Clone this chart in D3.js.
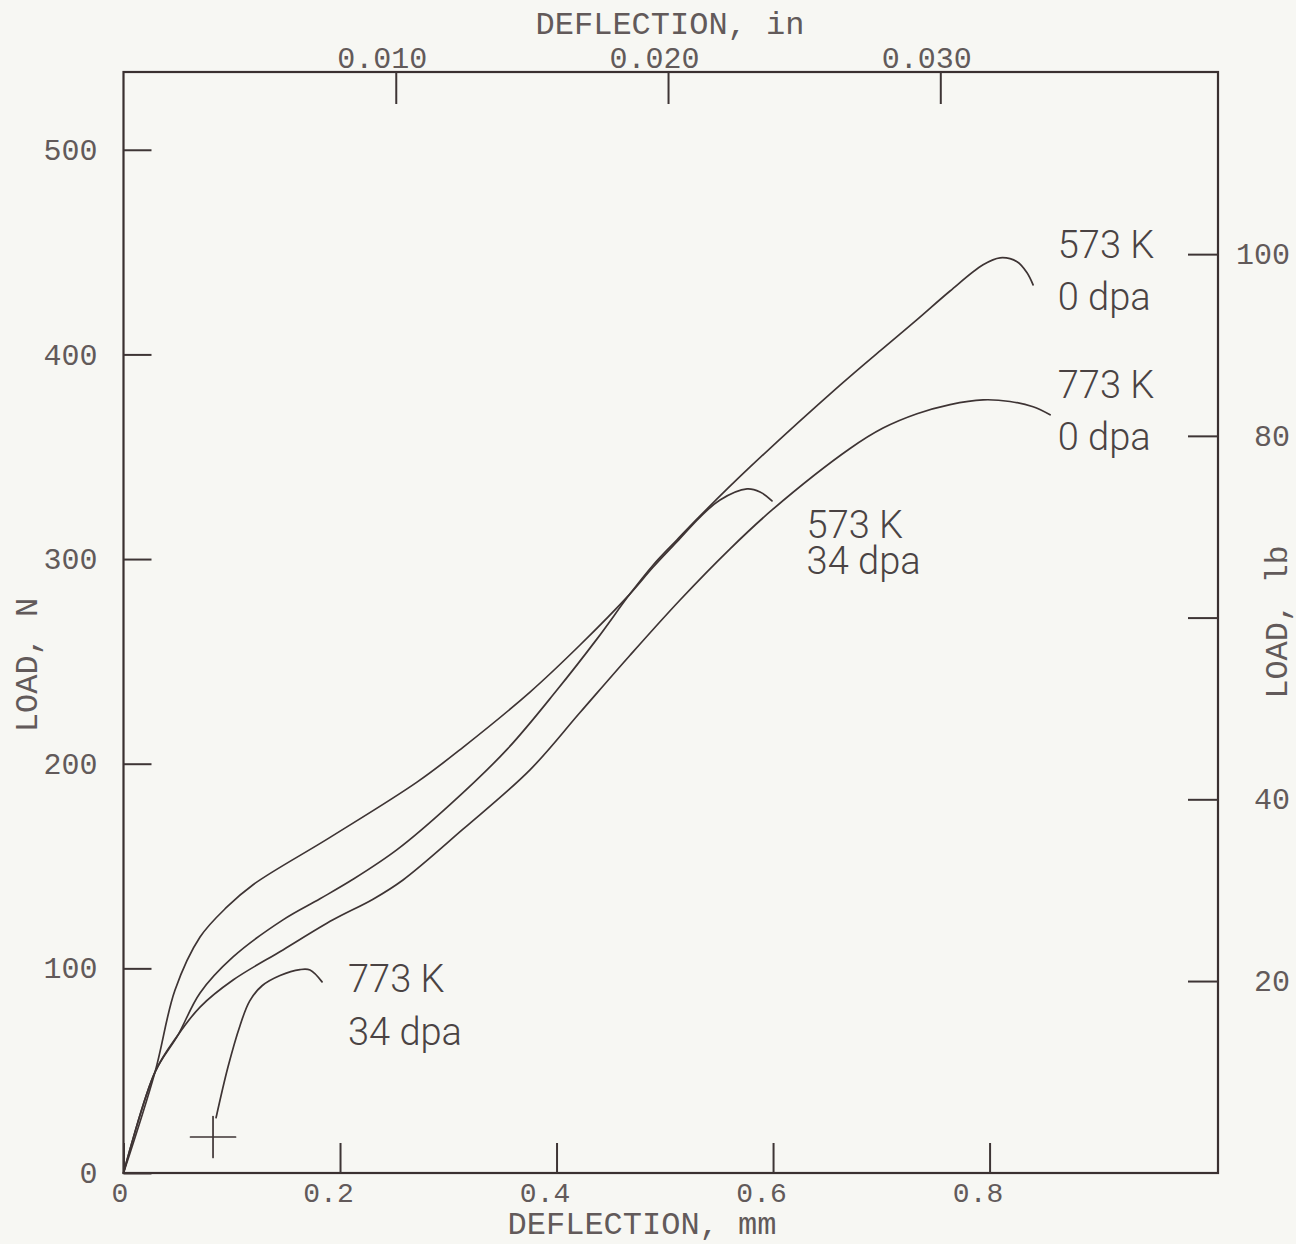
<!DOCTYPE html>
<html>
<head>
<meta charset="utf-8">
<script src="https://cdn.jsdelivr.net/npm/d3@7"></script>
<style>
  html, body { margin: 0; padding: 0; background: #f7f7f3; }
  svg { display: block; }
  .axis text { font-family: "Liberation Mono", "DejaVu Sans Mono", monospace; font-size: 30px; fill: #625a5a; }
  .axis.bottom text { font-size: 28px; }
  .axis path { display: none; }
  .axis line { stroke: #3e3535; stroke-width: 2; }
  .title { font-family: "Liberation Mono", "DejaVu Sans Mono", monospace; font-size: 32px; fill: #625a5a; }
  .note { font-family: Roboto, Inter, "Open Sans", sans-serif; font-weight: 300; font-size: 38px; fill: #4a4343; }
  .curve { fill: none; stroke: #3e3434; stroke-width: 1.7; stroke-linejoin: round; stroke-linecap: round; }
</style>
</head>
<body>
<svg id="chart" width="1296" height="1244"></svg>
<script>
// Load–deflection records: [deflection (mm), load (N)]
const curve573K0dpa = [
  [0, 0], [0.0291, 49.3], [0.0503, 67.4], [0.0707, 88.0], [0.1012, 105.6], [0.1473, 123.7],
  [0.1815, 134.0], [0.212, 143.5], [0.2527, 158.0], [0.3016, 180.0], [0.3543, 207.0],
  [0.4004, 236.0], [0.4374, 261.0], [0.4679, 283.0], [0.4891, 297.0], [0.5113, 309.4],
  [0.5326, 321.1], [0.5788, 345.0], [0.6619, 385.0], [0.7016, 403.0], [0.733, 417.0],
  [0.7635, 431.0], [0.794, 443.8], [0.8097, 447.2], [0.8254, 445.3], [0.8346, 439.9], [0.8402, 434.0]
];
const curve573K34dpa = [
  [0, 0], [0.0291, 49.3], [0.0476, 89.4], [0.0707, 115.3], [0.0956, 130.0], [0.12, 141.0],
  [0.1908, 164.0], [0.2711, 191.0], [0.3136, 208.0], [0.3755, 235.0], [0.4217, 258.0],
  [0.4679, 283.0], [0.4891, 296.0], [0.5113, 308.5], [0.5326, 320.5], [0.551, 328.9],
  [0.576, 334.3], [0.588, 332.8], [0.599, 328.4]
];
const curve773K0dpa = [
  [0, 0], [0.0291, 49.3], [0.0503, 67.4], [0.0707, 81.1], [0.1012, 94.3], [0.1473, 109.0],
  [0.1935, 123.7], [0.2305, 133.8], [0.2582, 143.2], [0.3136, 168.0], [0.3755, 197.0],
  [0.4217, 225.0], [0.4679, 253.0], [0.5141, 280.0], [0.5603, 305.0], [0.5991, 324.0],
  [0.6711, 354.0], [0.7016, 364.0], [0.733, 371.0], [0.7635, 375.5], [0.794, 377.8],
  [0.8189, 377.0], [0.8402, 374.4], [0.8559, 370.5]
];
const curve773K34dpa = [
  [0.0855, 27.0], [0.0965, 51.8], [0.1076, 72.0], [0.1165, 84.0], [0.128, 91.5], [0.1446, 96.5],
  [0.163, 99.4], [0.1723, 99.2], [0.1834, 93.4]
];
// starting-point cross of the 773 K / 34 dpa record: centre and half extents
const startCross = { deflection: 0.0827, load: 17.6, halfDeflection: 0.0208, halfLoad: 10 };

// Curve annotations: lines of text and their anchor in data units
const curveNotes = [
  { lines: ["573 K", "0 dpa"], deflection: 0.863, load: 447, lineStep: 25.4 },
  { lines: ["773 K", "0 dpa"], deflection: 0.863, load: 378.7, lineStep: 25.4 },
  { lines: ["573 K", "34 dpa"], deflection: 0.631, load: 310.3, lineStep: 17.6 },
  { lines: ["773 K", "34 dpa"], deflection: 0.2074, load: 88.4, lineStep: 25.9 }
];

// Axis ticks
const mmTicks = [0, 0.2, 0.4, 0.6, 0.8];
const inchTicks = [0.010, 0.020, 0.030];
const newtonTicks = [0, 100, 200, 300, 400, 500];
const poundTicks = [20, 40, 60, 80, 100];
const poundLabels = { 20: "20", 40: "40", 60: "", 80: "80", 100: "100" };

const svg = d3.select("#chart");
const frame = { left: 123.5, right: 1218, top: 72, bottom: 1173 };

const x = d3.scaleLinear().domain([0, 1.011]).range([frame.left, frame.right]);
const y = d3.scaleLinear().domain([0, 538]).range([frame.bottom, frame.top]);
const xIn = d3.scaleLinear().domain([0, 0.0402]).range([frame.left, frame.right]);
const yLb = d3.scaleLinear().domain([0, 100]).range([y(5), y(449)]);

// plot frame
svg.append("rect")
  .attr("x", frame.left).attr("y", frame.top)
  .attr("width", frame.right - frame.left).attr("height", frame.bottom - frame.top)
  .attr("fill", "none").attr("stroke", "#3a3030").attr("stroke-width", 2.2);

// bottom axis (mm)
const gBottom = svg.append("g").attr("class", "axis bottom")
  .attr("transform", `translate(0,${frame.bottom})`)
  .call(d3.axisBottom(x).tickValues(mmTicks).tickSize(-30).tickPadding(9)
    .tickFormat(d => d === 0 ? "0" : d3.format(".1f")(d)));
gBottom.selectAll("text").attr("dx", d => d === 0 ? -4 : -12);

// top axis (in)
const gTop = svg.append("g").attr("class", "axis")
  .attr("transform", `translate(0,${frame.top})`)
  .call(d3.axisTop(xIn).tickValues(inchTicks).tickSize(-32).tickPadding(4)
    .tickFormat(d3.format(".3f")));
gTop.selectAll("text").attr("dx", -14);

// left axis (N)
svg.append("g").attr("class", "axis")
  .attr("transform", `translate(${frame.left},0)`)
  .call(d3.axisLeft(y).tickValues(newtonTicks).tickSize(-28).tickPadding(26));

// right axis (lb)
const gRight = svg.append("g").attr("class", "axis")
  .attr("transform", `translate(${frame.right},0)`)
  .call(d3.axisRight(yLb).tickValues(poundTicks).tickSize(-30).tickPadding(72)
    .tickFormat(d => poundLabels[d]));
gRight.selectAll("text").attr("text-anchor", "end");

// axis titles
svg.append("text").attr("class", "title")
  .attr("x", 642).attr("y", 1234).attr("text-anchor", "middle")
  .text("DEFLECTION, mm");
svg.append("text").attr("class", "title")
  .attr("x", 670).attr("y", 34).attr("text-anchor", "middle")
  .text("DEFLECTION, in");
svg.append("text").attr("class", "title")
  .attr("transform", "translate(37,665) rotate(-90)").attr("text-anchor", "middle")
  .text("LOAD, N");
svg.append("text").attr("class", "title")
  .attr("transform", "translate(1287,622) rotate(-90)").attr("text-anchor", "middle")
  .text("LOAD, lb");

// curves
const line = d3.line()
  .x(d => x(d[0])).y(d => y(d[1]))
  .curve(d3.curveCatmullRom.alpha(0.5));

[curve573K0dpa, curve573K34dpa, curve773K0dpa, curve773K34dpa].forEach(c => {
  svg.append("path").attr("class", "curve").attr("d", line(c));
});

// start cross
svg.append("line").attr("class", "curve")
  .attr("x1", x(startCross.deflection - startCross.halfDeflection))
  .attr("x2", x(startCross.deflection + startCross.halfDeflection))
  .attr("y1", y(startCross.load)).attr("y2", y(startCross.load));
svg.append("line").attr("class", "curve").attr("stroke-width", 1.3)
  .attr("x1", x(startCross.deflection)).attr("x2", x(startCross.deflection))
  .attr("y1", y(startCross.load - startCross.halfLoad))
  .attr("y2", y(startCross.load + startCross.halfLoad));

// curve annotations
curveNotes.forEach(n => {
  n.lines.forEach((t, i) => {
    svg.append("text").attr("class", "note")
      .attr("x", x(n.deflection))
      .attr("y", y(n.load - i * n.lineStep))
      .text(t);
  });
});
</script>
</body>
</html>
